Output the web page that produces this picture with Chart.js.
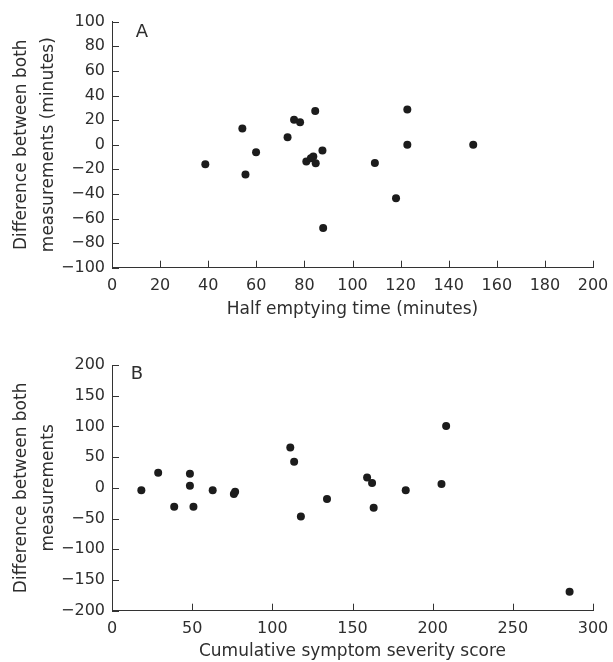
<!DOCTYPE html>
<html>
<head>
<meta charset="utf-8">
<script src="https://cdn.jsdelivr.net/npm/chart.js@4/dist/chart.umd.min.js"></script>
<style>
  html, body { margin: 0; padding: 0; background: #ffffff; }
  .wrap { position: relative; width: 613px; }
  canvas { display: block; }
</style>
</head>
<body>
<div class="wrap" style="height:330px"><canvas id="chartA" width="613" height="330"></canvas></div>
<div class="wrap" style="height:332px"><canvas id="chartB" width="613" height="332"></canvas></div>
<script>
// ---- Panel A data: half emptying time vs difference ----
const halfEmptyingTime = [38.8, 54.2, 55.5, 59.9, 73.0, 75.7, 78.2, 84.5, 80.8, 82.7, 83.7, 84.7, 87.5, 87.8, 109.3, 118.1, 122.8, 122.8, 150.2];
const diffA = [-15.9, 13.2, -24.3, -6.1, 6.1, 20.2, 18.3, 27.3, -13.7, -11.0, -9.6, -15.0, -4.7, -67.7, -14.8, -43.6, 28.6, 0.0, 0.0];

// ---- Panel B data: cumulative symptom severity score vs difference ----
const symptomScore = [18.3, 28.8, 38.8, 48.6, 48.6, 50.8, 62.8, 76.0, 76.8, 111.2, 113.6, 117.8, 134.1, 159.1, 162.2, 163.2, 183.2, 205.5, 208.4, 285.4];
const diffB = [-4.1, 24.6, -30.6, 23.0, 3.5, -30.6, -4.1, -10.0, -6.5, 65.8, 42.5, -46.8, -18.1, 17.0, 7.8, -32.2, -4.1, 6.2, 100.5, -169.0];

// ---- Axis ranges / ticks ----
const xTicksA = { min: 0, max: 200, step: 20 };
const yTicksA = { min: -100, max: 100, step: 20 };
const xTicksB = { min: 0, max: 300, step: 50 };
const yTicksB = { min: -200, max: 200, step: 50 };

// ---- Texts ----
const panelLabels = ['A', 'B'];
const yTitleA = ['Difference between both', 'measurements (minutes)'];
const xTitleA = 'Half emptying time (minutes)';
const yTitleB = ['Difference between both', 'measurements'];
const xTitleB = 'Cumulative symptom severity score';

const FONT = "'DejaVu Sans', 'Liberation Sans', sans-serif";
const TEXT = '#2e2e2e';
const AXIS = '#333333';
const TICK_LEN = 7;

const panelLabelPlugin = {
  id: 'panelLabel',
  afterDraw(chart, args, opts) {
    const { ctx, chartArea } = chart;
    ctx.save();
    ctx.font = '18px ' + FONT;
    ctx.fillStyle = TEXT;
    ctx.textAlign = 'center';
    ctx.textBaseline = 'middle';
    ctx.fillText(opts.text, chartArea.left + opts.dx, chartArea.top + opts.dy);
    ctx.restore();
  }
};

// inward tick marks placed by the library's own scales
const innerTicksPlugin = {
  id: 'innerTicks',
  afterDraw(chart) {
    const { ctx, chartArea, scales } = chart;
    ctx.save();
    ctx.strokeStyle = AXIS;
    ctx.lineWidth = 1;
    ctx.beginPath();
    scales.x.ticks.forEach(t => {
      const px = Math.round(scales.x.getPixelForValue(t.value)) + 0.5;
      ctx.moveTo(px, chartArea.bottom);
      ctx.lineTo(px, chartArea.bottom - TICK_LEN);
    });
    scales.y.ticks.forEach(t => {
      const py = Math.round(scales.y.getPixelForValue(t.value)) + 0.5;
      ctx.moveTo(chartArea.left, py);
      ctx.lineTo(chartArea.left + TICK_LEN, py);
    });
    ctx.stroke();
    ctx.restore();
  }
};

function minusFmt(v) { return String(v).replace('-', '\u2212'); }

function makeChart(id, xs, ys, xr, yr, xTitle, yTitle, label, pad, xAxisH, xTitlePad, labelOffset) {
  const pts = xs.map((x, i) => ({ x: x, y: ys[i] }));
  return new Chart(document.getElementById(id), {
    type: 'scatter',
    data: { datasets: [{ data: pts, backgroundColor: '#1c1c1c', borderWidth: 0, pointRadius: 4, pointHoverRadius: 4 }] },
    options: {
      responsive: false,
      animation: false,
      events: [],
      layout: { padding: pad },
      plugins: {
        legend: { display: false },
        tooltip: { enabled: false },
        panelLabel: { text: label, dx: labelOffset[0], dy: labelOffset[1] }
      },
      scales: {
        x: {
          type: 'linear',
          min: xr.min, max: xr.max,
          afterFit(s) { s.height = xAxisH; s.paddingLeft = 0; s.paddingRight = 0; },
          ticks: { stepSize: xr.step, padding: 9, color: TEXT, font: { family: FONT, size: 16 }, callback: minusFmt },
          grid: { drawOnChartArea: false, drawTicks: false, tickLength: 0 },
          border: { display: true, color: AXIS, width: 1 },
          title: { display: true, text: xTitle, color: TEXT, font: { family: FONT, size: 17, lineHeight: 1.2 }, padding: { top: 0, bottom: xTitlePad } }
        },
        y: {
          type: 'linear',
          min: yr.min, max: yr.max,
          afterFit(s) { s.width = 112; },
          ticks: { stepSize: yr.step, padding: 7, color: TEXT, font: { family: FONT, size: 16 }, callback: minusFmt },
          grid: { drawOnChartArea: false, drawTicks: false, tickLength: 0 },
          border: { display: true, color: AXIS, width: 1 },
          title: { display: true, text: yTitle, color: TEXT, font: { family: FONT, size: 17, lineHeight: 1.6 }, padding: { top: 7.5, bottom: 0 } }
        }
      }
    },
    plugins: [panelLabelPlugin, innerTicksPlugin]
  });
}

makeChart('chartA', halfEmptyingTime, diffA, xTicksA, yTicksA, xTitleA, yTitleA, panelLabels[0],
  { left: 0, right: 20, top: 21.7, bottom: 0 }, 62.3, 9.8, [30, 10.3]);
makeChart('chartB', symptomScore, diffB, xTicksB, yTicksB, xTitleB, yTitleB, panelLabels[1],
  { left: 0, right: 20, top: 35, bottom: 0 }, 51.3, 0.3, [25, 9]);
</script>
</body>
</html>
